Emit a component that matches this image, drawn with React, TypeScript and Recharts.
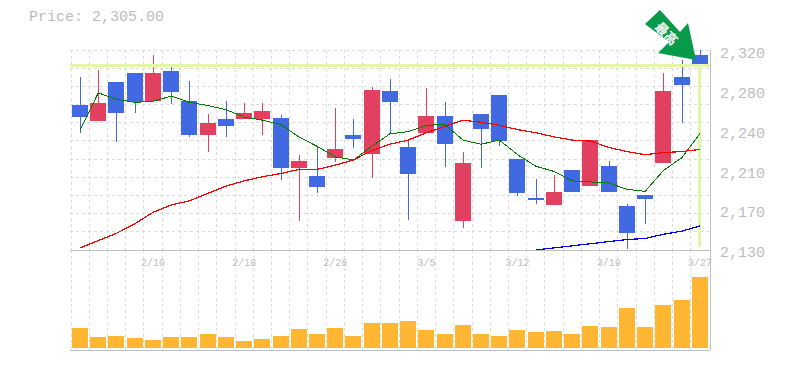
import { Bar, CartesianGrid, ComposedChart, Line, ReferenceLine, XAxis, YAxis } from "recharts";

const dates = [
  "2/4", "2/5", "2/6", "2/9", "2/10", "2/12", "2/13", "2/16", "2/17", "2/18",
  "2/19", "2/20", "2/23", "2/24", "2/26", "2/27", "3/2", "3/3", "3/4", "3/5",
  "3/6", "3/9", "3/10", "3/11", "3/12", "3/13", "3/16", "3/17", "3/18", "3/19",
  "3/20", "3/23", "3/24", "3/26", "3/27",
];
const dateTicks = ["2/10", "2/18", "2/26", "3/5", "3/12", "3/19", "3/27"];
const priceTicks = [2320, 2282, 2244, 2206, 2168, 2130];

const opens = [
  2256, 2269, 2260, 2270, 2298, 2280, 2239, 2250, 2247, 2260,
  2262, 2207, 2214, 2189, 2225, 2235, 2282, 2270, 2202, 2257,
  2230, 2212, 2245, 2233, 2183, 2177, 2184, 2184, 2234, 2184,
  2145, 2178, 2281, 2287, 2305,
];
const closes = [
  2267, 2252, 2289, 2298, 2271, 2300, 2271, 2239, 2254, 2254,
  2254, 2255, 2207, 2200, 2217, 2239, 2221, 2281, 2227, 2241,
  2257, 2157, 2259, 2277, 2216, 2179, 2172, 2205, 2190, 2209,
  2171, 2182, 2212, 2294, 2315,
];
const highs = [
  2294, 2301, 2289, 2298, 2315, 2304, 2290, 2259, 2271, 2269,
  2269, 2258, 2220, 2228, 2265, 2254, 2285, 2292, 2235, 2284,
  2270, 2223, 2259, 2277, 2216, 2197, 2201, 2205, 2234, 2214,
  2173, 2182, 2298, 2310, 2320,
];
const lows = [
  2241, 2252, 2232, 2260, 2271, 2268, 2237, 2223, 2237, 2254,
  2239, 2196, 2157, 2183, 2213, 2226, 2198, 2240, 2158, 2241,
  2208, 2150, 2207, 2228, 2181, 2173, 2172, 2184, 2190, 2184,
  2130, 2154, 2212, 2250, 2281,
];
const shortAverage = [
  2244, 2279, 2273, 2270, 2271, 2276, 2270, 2267, 2263, 2256,
  2253, 2249, 2237, 2228, 2218, 2215, 2228, 2240, 2242, 2248,
  2249, 2234, 2230, 2234, 2220, 2209, 2204, 2195, 2194, 2193,
  2187, 2185, 2205, 2217, 2240,
];
const midAverage = [
  2131, 2138, 2145, 2154, 2165, 2172, 2176, 2183, 2190, 2195,
  2199, 2202, 2206, 2206, 2210, 2215, 2224, 2230, 2234, 2241,
  2247, 2253, 2251, 2248, 2244, 2241, 2237, 2234, 2233, 2227,
  2223, 2220, 2222, 2223, 2225,
];
const longAverage = [
  null, null, null, null, null, null, null, null, null, null,
  null, null, null, null, null, null, null, null, null, null,
  null, null, null, null, null, 2129, 2131, 2133, 2135, 2137,
  2139, 2140, 2144, 2147, 2152,
];
const volumes = [
  20, 11, 12, 10, 8, 11, 11, 14, 11, 7,
  9, 12, 19, 14, 20, 12, 25, 25, 27, 18,
  14, 23, 14, 12, 18, 16, 17, 14, 22, 21,
  40, 21, 43, 48, 71,
];

const lastPrice = 2305;
const lastPriceLabel = "Price: 2,305.00";

const rows = dates.map((date, i) => ({
  date,
  open: opens[i],
  close: closes[i],
  high: highs[i],
  low: lows[i],
  shortAverage: shortAverage[i],
  midAverage: midAverage[i],
  longAverage: longAverage[i],
  volume: volumes[i],
}));

const MONO = "'Liberation Mono', monospace";
const LABEL = "#bdbdbd";
const AXIS = "#c0c0c0";
const GRID = "#dcdcdc";
const MARKER = "#e3f5a6";

// wick and body share one range bar, the body is scaled inside the high-low span
function Candle(props: any) {
  const { x, y, width, height, payload } = props;
  const { open, close, high, low } = payload;
  const perUnit = height / (high - low);
  const top = y + (high - Math.max(open, close)) * perUnit;
  const bodyHeight = Math.max(Math.abs(open - close) * perUnit, 1);
  const color = close >= open ? "#4169e1" : "#e24060";
  const left = Math.round(x);
  return (
    <g>
      <rect x={left + Math.floor(width / 2)} y={y} width={1} height={height} fill={color} />
      <rect x={left} y={top} width={width} height={bodyHeight} fill={color} />
    </g>
  );
}

function verticalLines({ offset }: any) {
  return dates.map((_, i) => offset.left + 1 + (i * (offset.width - 2)) / dates.length);
}

function horizontalLines({ offset }: any) {
  return Array.from({ length: 11 }, (_, i) => offset.top + (i * offset.height) / 11);
}

// the green marker is a picture in the source, not a data mark
function SellArrow() {
  return (
    <svg width={70} height={70} style={{ position: "absolute", left: 640, top: 5, shapeRendering: "geometricPrecision" }}>
      <polygon points="20,5 5,19 29,37 18,48 56,55 48,18 40,27" fill="#069a4a" />
      <text x={27} y={28} transform="rotate(45 27 28)" fontSize={13} fontWeight={700} fill="#fff"
        fontFamily="'Noto Sans CJK JP'" textAnchor="middle" dominantBaseline="central">
        最高
      </text>
    </svg>
  );
}

export default function App() {
  return (
    <div style={{ position: "absolute", left: 0, top: 0, width: 785, height: 370, background: "#fff", shapeRendering: "crispEdges" }}>
      <div style={{ position: "absolute", left: 29, top: 9, font: `15px ${MONO}`, color: LABEL }}>{lastPriceLabel}</div>

      <ComposedChart
        width={785}
        height={110}
        data={rows}
        margin={{ top: 0, right: 74, bottom: 9, left: 70 }}
        style={{ position: "absolute", left: 0, top: 250 }}
      >
        <CartesianGrid stroke={GRID} strokeDasharray="3 3" horizontal={false} verticalCoordinatesGenerator={verticalLines} />
        <XAxis dataKey="date" tick={false} tickLine={false} height={1} stroke={AXIS} padding={{ left: 1, right: 1 }} />
        <YAxis orientation="right" width={1} domain={[-2, 98]} tick={false} tickLine={false} stroke={AXIS} />
        <Bar dataKey="volume" fill="#ffb733" barSize={16} isAnimationActive={false} />
      </ComposedChart>

      <ComposedChart
        width={785}
        height={270}
        data={rows}
        margin={{ top: 50, right: 0, bottom: 0, left: 70 }}
        style={{ position: "absolute", left: 0, top: 0 }}
      >
        <CartesianGrid
          stroke={GRID}
          strokeDasharray="3 3"
          verticalCoordinatesGenerator={verticalLines}
          horizontalCoordinatesGenerator={horizontalLines}
        />
        <XAxis
          dataKey="date"
          ticks={dateTicks}
          interval={0}
          height={20}
          tickLine={false}
          tickMargin={3}
          stroke={AXIS}
          padding={{ left: 1, right: 1 }}
          tick={{ fontSize: 10, fontFamily: MONO, fill: LABEL }}
        />
        <YAxis
          orientation="right"
          width={75}
          domain={[2130, 2320]}
          ticks={priceTicks}
          interval={0}
          tickLine={false}
          tickMargin={4}
          stroke={AXIS}
          tickFormatter={(v: number) => (Math.round(v / 10) * 10).toLocaleString("en-US")}
          tick={{ fontSize: 15, fontFamily: MONO, fill: LABEL, dy: 3 }}
        />
        <ReferenceLine y={lastPrice} stroke={MARKER} strokeWidth={3} />
        <ReferenceLine
          segment={[{ x: "3/27", y: lastPrice }, { x: "3/27", y: 2132 }]}
          stroke={MARKER}
          strokeWidth={3}
        />
        <Line dataKey="shortAverage" stroke="#008000" strokeWidth={1} dot={false} activeDot={false} isAnimationActive={false} />
        <Line dataKey="midAverage" stroke="#ff0000" strokeWidth={1.2} dot={false} activeDot={false} isAnimationActive={false} />
        <Line dataKey="longAverage" stroke="#0000ff" strokeWidth={1.2} dot={false} activeDot={false} isAnimationActive={false} />
        <Bar dataKey={(d: any) => [d.low, d.high]} barSize={16} shape={Candle} isAnimationActive={false} />
      </ComposedChart>

      <SellArrow />
    </div>
  );
}
